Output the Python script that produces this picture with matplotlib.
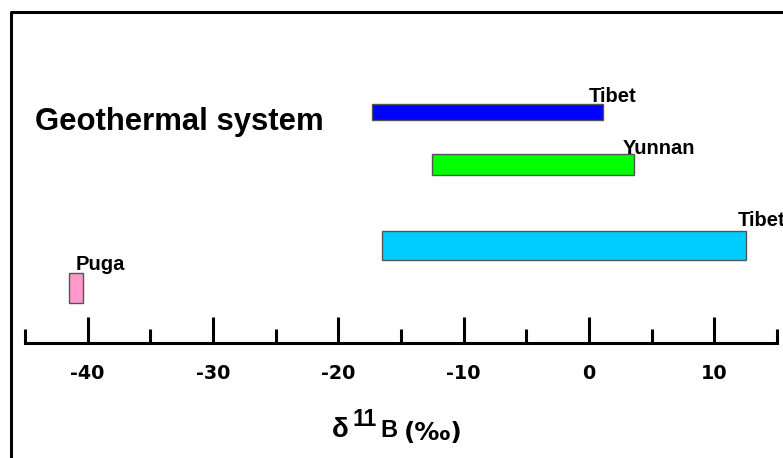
import matplotlib.pyplot as plt
import matplotlib.lines as mlines
import numpy as np

plt.rcParams['font.family'] = ['Liberation Sans', 'DejaVu Sans']
plt.rcParams['font.weight'] = 'bold'

# d11B ranges (permil) of geothermal systems
names = ['Tibet', 'Yunnan', 'Tibet', 'Puga']
d11b_min = [-17.3, -12.5, -16.5, -41.5]
d11b_max = [1.1, 3.6, 12.5, -40.4]
colors = ['#0000FF', '#00FF00', '#00CCFF', '#FF99CC']
label_x = [0.0, 2.7, 11.9, -41.0]

major_ticks = [-40, -30, -20, -10, 0, 10]
minor_ticks = [-45, -35, -25, -15, -5, 5, 15]

# layout (pixel-ish units above the axis line)
bar_y = [231, 178.5, 97.5, 55]
bar_h = [16, 21, 29, 30]
label_gap = [2, 0.5, 5, 2.5]

W, H = 783, 458
fig = plt.figure(figsize=(W / 100, H / 100), dpi=100)
ax = fig.add_axes([25 / W, (H - 343) / H, 752 / W, 331 / H])
ax.set_xlim(-45, 15)
ax.set_ylim(0, 331)

widths = np.array(d11b_max) - np.array(d11b_min)
ax.barh(bar_y, widths, height=bar_h, left=d11b_min, color=colors,
        edgecolor='#555555', linewidth=1)

for n, lx, y, h, g in zip(names, label_x, bar_y, bar_h, label_gap):
    ax.text(lx, y + h / 2 + g, n, fontsize=14.5, fontweight='bold',
            ha='left', va='baseline', clip_on=False)

for s in ['left', 'right', 'top']:
    ax.spines[s].set_visible(False)
ax.spines['bottom'].set_linewidth(2.2)
ax.set_yticks([])
ax.set_xticks(major_ticks)
ax.set_xticks(minor_ticks, minor=True)
ax.set_xticklabels([str(t) for t in major_ticks])
ax.tick_params(axis='x', which='major', direction='in', length=19, width=2.2,
               labelsize=13.8, pad=15)
ax.tick_params(axis='x', which='minor', direction='in', length=10, width=2.2)
for lab in ax.get_xticklabels():
    lab.set_fontweight('bold')
    lab.set_family('DejaVu Sans')

ax.text(-44.2, 213, 'Geothermal system', fontsize=22.4, fontweight='bold',
        ha='left', va='baseline')

# x axis label built from pieces
fig.text(332 / W, 1 - 437 / H, '\u03b4', fontsize=20, fontweight='bold', va='baseline')
fig.text(353 / W, 1 - 426 / H, '11', fontsize=16.5, fontweight='bold', va='baseline')
fig.text(380 / W, 1 - 437 / H, 'B', fontsize=17, fontweight='bold', va='baseline')
fig.text(404 / W, 1 - 440 / H, '(\u2030)', fontsize=18, fontweight='bold', va='baseline',
         family='DejaVu Sans')

# outer frame (left and top edges visible)
fig.add_artist(mlines.Line2D([11 / W, 11 / W, 1.0], [0.0, 1 - 12 / H, 1 - 12 / H],
                             color='black', linewidth=2.2))

plt.savefig('out.png', dpi=100)
